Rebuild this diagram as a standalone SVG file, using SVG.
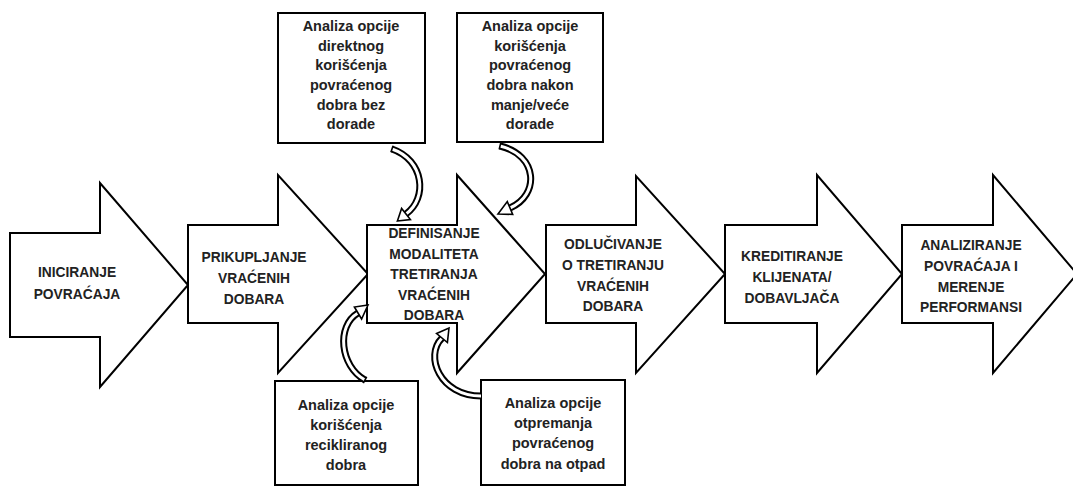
<svg xmlns="http://www.w3.org/2000/svg" width="1073" height="487" viewBox="0 0 1073 487">
<style>
.shape{fill:#fff;stroke:#000;stroke-width:2;stroke-linejoin:miter}
.at{font-family:"Liberation Sans",Arial,sans-serif;font-weight:bold;font-size:13.8px;text-anchor:middle;fill:#222}
.bt{font-family:"Liberation Sans",Arial,sans-serif;font-weight:bold;font-size:14.5px;text-anchor:middle;fill:#222}
.sh-out{fill:none;stroke:#000;stroke-width:7}
.sh-in{fill:none;stroke:#fff;stroke-width:3}
.hd{fill:#fff;stroke:#000;stroke-width:1.6;stroke-linejoin:miter}
.cap{stroke:#000;stroke-width:1.6}
</style>
<rect width="1073" height="487" fill="#fff"/>
<g id="n1">
<polygon class="shape" points="10,233 100,233 100,183 188,285 100,387 100,337 10,337"/>
<text class="at" x="77" y="277">INICIRANJE</text>
<text class="at" x="77" y="299">POVRAĆAJA</text>
</g>
<g id="n2">
<polygon class="shape" points="188,225 278,225 278,175 368,274 278,373 278,323 188,323"/>
<text class="at" x="254" y="262">PRIKUPLJANJE</text>
<text class="at" x="254" y="283">VRAĆENIH</text>
<text class="at" x="254" y="304">DOBARA</text>
</g>
<g id="n3">
<polygon class="shape" points="367,225 457,225 457,175 545,274 457,373 457,323 367,323"/>
<text class="at" x="434" y="238">DEFINISANJE</text>
<text class="at" x="434" y="259">MODALITETA</text>
<text class="at" x="434" y="279">TRETIRANJA</text>
<text class="at" x="434" y="300">VRAĆENIH</text>
<text class="at" x="434" y="320">DOBARA</text>
</g>
<g id="n4">
<polygon class="shape" points="546,225 636,225 636,176 725,274 636,373 636,323 546,323"/>
<text class="at" x="613" y="249">ODLUČIVANJE</text>
<text class="at" x="613" y="270">O TRETIRANJU</text>
<text class="at" x="613" y="291">VRAĆENIH</text>
<text class="at" x="613" y="311">DOBARA</text>
</g>
<g id="n5">
<polygon class="shape" points="725,225 817,225 817,175 902,274 817,373 817,323 725,323"/>
<text class="at" x="792" y="261">KREDITIRANJE</text>
<text class="at" x="792" y="282">KLIJENATA/</text>
<text class="at" x="792" y="303">DOBAVLJAČA</text>
</g>
<g id="n6">
<polygon class="shape" points="902,225 993,225 993,175 1077,274 993,373 993,323 902,323"/>
<text class="at" x="971" y="250">ANALIZIRANJE</text>
<text class="at" x="971" y="271">POVRAĆAJA I</text>
<text class="at" x="971" y="292">MERENJE</text>
<text class="at" x="971" y="312">PERFORMANSI</text>
</g>
<g id="b1">
<rect class="shape" x="278" y="13" width="147" height="130"/>
<text class="bt" x="351" y="31">Analiza opcije</text>
<text class="bt" x="351" y="51">direktnog</text>
<text class="bt" x="351" y="70">korišćenja</text>
<text class="bt" x="351" y="90">povraćenog</text>
<text class="bt" x="351" y="110">dobra bez</text>
<text class="bt" x="351" y="129">dorade</text>
</g>
<g id="b2">
<rect class="shape" x="457" y="13" width="146" height="129"/>
<text class="bt" x="530" y="31">Analiza opcije</text>
<text class="bt" x="530" y="51">korišćenja</text>
<text class="bt" x="530" y="70">povraćenog</text>
<text class="bt" x="530" y="90">dobra nakon</text>
<text class="bt" x="530" y="110">manje/veće</text>
<text class="bt" x="530" y="129">dorade</text>
</g>
<g id="b3">
<rect class="shape" x="275" y="381" width="143" height="104"/>
<text class="bt" x="346" y="410">Analiza opcije</text>
<text class="bt" x="346" y="430">korišćenja</text>
<text class="bt" x="346" y="450">recikliranog</text>
<text class="bt" x="346" y="470">dobra</text>
</g>
<g id="b4">
<rect class="shape" x="481" y="380" width="144" height="105"/>
<text class="bt" x="553" y="408">Analiza opcije</text>
<text class="bt" x="553" y="428">otpremanja</text>
<text class="bt" x="553" y="448">povraćenog</text>
<text class="bt" x="553" y="469">dobra na otpad</text>
</g>
<g id="connectors">
<path class="sh-out" d="M392 149 C424 160 428 198 406 214"/>
<path class="sh-in" d="M392 149 C424 160 428 198 406 214"/>
<line class="cap" x1="390.9" y1="152.3" x2="393.1" y2="145.7"/>
<polygon class="hd" points="397.4,221 410.4,219.5 401.6,208.5"/>
<path class="sh-out" d="M500 146 C538 155 540 195 510 208"/>
<path class="sh-in" d="M500 146 C538 155 540 195 510 208"/>
<line class="cap" x1="499.2" y1="149.4" x2="500.8" y2="142.6"/>
<polygon class="hd" points="498,214 512.7,214.4 507.3,201.6"/>
<path class="sh-out" d="M365 380 C340 366 336 326 358 313"/>
<path class="sh-in" d="M365 380 C340 366 336 326 358 313"/>
<line class="cap" x1="366.7" y1="376.9" x2="363.3" y2="383.1"/>
<polygon class="hd" points="368,305 361.6,319 354.4,307"/>
<path class="sh-out" d="M481 396 C440 396 424 356 442 338"/>
<path class="sh-in" d="M481 396 C440 396 424 356 442 338"/>
<polygon class="hd" points="449,328 447.4,342.5 436.6,333.5"/>
</g>
</svg>
